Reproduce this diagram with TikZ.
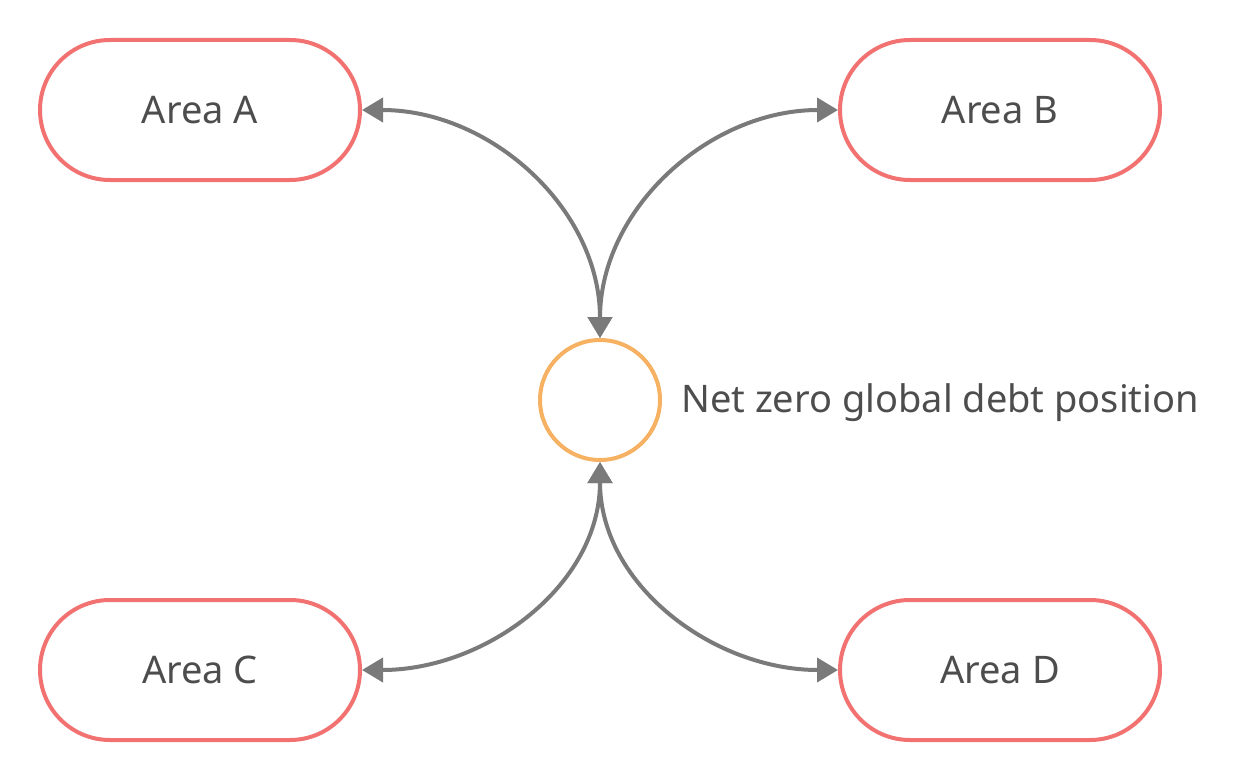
\documentclass[tikz,border=0pt]{standalone}
\usepackage{fontspec}
\setmainfont{Noto Sans}
\usetikzlibrary{arrows.meta}
\definecolor{boxred}{HTML}{F27272}
\definecolor{circorange}{HTML}{F6B162}
\definecolor{edgegray}{HTML}{7A7A7A}
\definecolor{txtgray}{HTML}{4D4D4D}
\begin{document}
\begin{tikzpicture}[x=1pt,y=-1pt,
  area/.style={draw=boxred,line width=4pt,rounded corners=70pt,minimum width=320pt,minimum height=140pt,inner sep=0pt,text=txtgray,font=\fontsize{38}{44}\selectfont},
  hub/.style={draw=circorange,line width=4pt,circle,minimum size=120pt,inner sep=0pt},
  link/.style={draw=edgegray,line width=4pt,{Triangle[length=21pt,width=24pt]}-{Triangle[length=21pt,width=24pt]}}]
\useasboundingbox (0,0) rectangle (1260,781);
\node[area] (A) at (200,110) {Area A};
\node[area] (B) at (1000,110) {Area B};
\node[area] (C) at (200,670) {Area C};
\node[area] (D) at (1000,670) {Area D};
\node[hub] (H) at (600,400) {};
\node[anchor=west,text=txtgray,font=\fontsize{38}{44}\selectfont,inner sep=0pt] (L) at (681,403) {Net zero global debt position};
\draw[link] (A.east) to[out=0,in=90] (H.north);
\draw[link] (H.north) to[out=90,in=180] (B.west);
\draw[link] (C.east) to[out=0,in=-90] (H.south);
\draw[link] (H.south) to[out=-90,in=180] (D.west);
\end{tikzpicture}
\end{document}
